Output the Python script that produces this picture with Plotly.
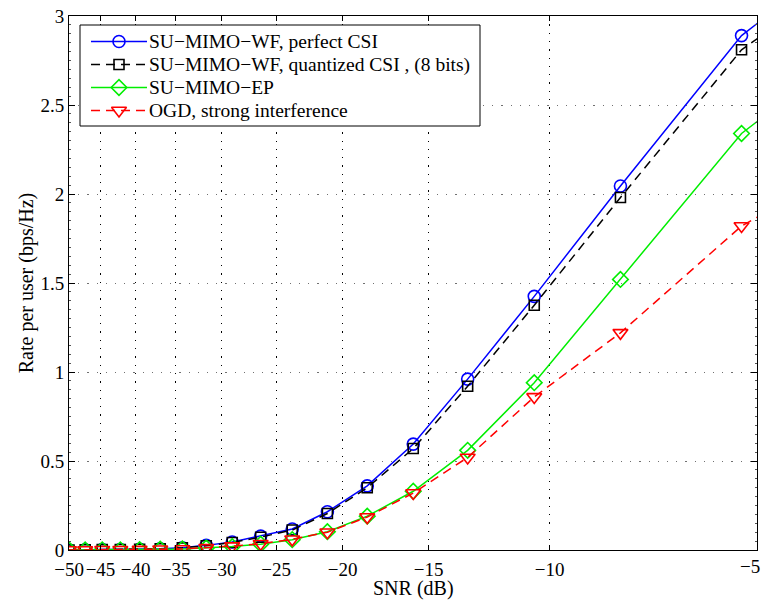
import plotly.graph_objects as go

# SNR grid (dB); the last point lies just past the right edge so the curves run to the border
snr_db = [-50.0, -47.37, -44.74, -42.11, -39.47, -36.84, -34.21, -31.58, -28.95,
          -26.32, -23.68, -21.05, -18.42, -15.79, -13.16, -10.53, -7.89, -5.26, -2.63]

rate_wf_perfect = [0.0, 0.001, 0.002, 0.003, 0.004, 0.007, 0.013, 0.026, 0.045,
                   0.078, 0.118, 0.215, 0.36, 0.595, 0.96, 1.425, 2.045, 2.89, 3.79]
rate_wf_quant = [0.0, 0.001, 0.002, 0.003, 0.004, 0.007, 0.012, 0.024, 0.042,
                 0.072, 0.112, 0.205, 0.35, 0.57, 0.92, 1.375, 1.98, 2.81, 3.63]
rate_ep = [0.0, 0.0, 0.001, 0.001, 0.002, 0.004, 0.006, 0.011, 0.019,
           0.033, 0.058, 0.103, 0.19, 0.33, 0.56, 0.94, 1.52, 2.34, 3.23]
rate_ogd = [0.0, 0.0, 0.001, 0.001, 0.002, 0.004, 0.006, 0.012, 0.022,
            0.035, 0.06, 0.10, 0.185, 0.32, 0.52, 0.86, 1.22, 1.82, 2.48]

series_names = [
    "SU\u2212MIMO\u2212WF, perfect CSI",
    "SU\u2212MIMO\u2212WF, quantized CSI , (8 bits)",
    "SU\u2212MIMO\u2212EP",
    "OGD, strong interference",
]

x_ticks_db = [-50, -45, -40, -35, -30, -25, -20, -15, -10, -5]
y_ticks = [0, 0.5, 1, 1.5, 2, 2.5, 3]

# the SNR axis is logarithmic in |SNR|, drawn reversed
x_mag = [-v for v in snr_db]

FONT = "Liberation Serif"


def db_label(v):
    return "\u2212" + str(-v)


styles = [
    ("#0000ff", "solid", "circle-open", 12),
    ("#000000", "9px,6px", "square-open", 10),
    ("#00ee00", "solid", "diamond-open", 12),
    ("#ff0000", "9px,6px", "triangle-down-open", 13),
]
series_values = [rate_wf_perfect, rate_wf_quant, rate_ep, rate_ogd]

fig = go.Figure()
for name, ys, (color, dash, symbol, size) in zip(series_names, series_values, styles):
    fig.add_trace(go.Scatter(
        x=x_mag, y=ys, name=name, mode="lines+markers",
        line=dict(color=color, width=1.5, dash=dash),
        marker=dict(symbol=symbol, size=size, color=color,
                    line=dict(color=color, width=1.6)),
        showlegend=False,
    ))

# ---- boxed legend, laid out on an overlay axis pair measured in pixels ----
box_x0, box_x1, box_y0, box_y1 = 80, 480, 25, 126
row_y = [41.5, 64.5, 87.5, 110.5]
sample_x = [91, 119, 147]
text_x = 147

fig.add_trace(go.Scatter(
    x=[box_x0, box_x1, box_x1, box_x0, box_x0],
    y=[box_y0, box_y0, box_y1, box_y1, box_y0],
    xaxis="x2", yaxis="y2", mode="lines", fill="toself",
    fillcolor="white", line=dict(color="black", width=1),
    hoverinfo="skip", showlegend=False,
))
for ry, name, (color, dash, symbol, size) in zip(row_y, series_names, styles):
    fig.add_trace(go.Scatter(
        x=sample_x, y=[ry] * 3, xaxis="x2", yaxis="y2", mode="lines+markers",
        line=dict(color=color, width=1.5, dash=dash),
        marker=dict(symbol=symbol, size=size, color=color, opacity=[0, 1, 0],
                    line=dict(color=color, width=1.6)),
        hoverinfo="skip", showlegend=False,
    ))
    fig.add_annotation(
        x=text_x, y=ry, xref="x2", yref="y2", text=name, showarrow=False,
        xanchor="left", yanchor="middle",
        font=dict(family=FONT, size=19.5, color="black"),
    )

# the rightmost tick label is kept inside the page by right-aligning it
tick_text = [db_label(v) for v in x_ticks_db[:-1]] + [""]
fig.add_annotation(
    x=1.0075, y=-0.031, xref="paper", yref="paper", text=db_label(x_ticks_db[-1]),
    showarrow=False, xanchor="right", yanchor="middle",
    font=dict(family=FONT, size=19, color="black"),
)

# x-axis title, placed just below the tick labels
fig.add_annotation(
    x=0.5, y=-0.072, xref="paper", yref="paper", text="SNR (dB)",
    showarrow=False, xanchor="center", yanchor="middle",
    font=dict(family=FONT, size=20, color="black"),
)

fig.update_layout(
    width=763, height=600,
    margin=dict(l=69, r=6, t=16, b=50, autoexpand=False),
    paper_bgcolor="white", plot_bgcolor="white",
    font=dict(family=FONT, size=19, color="black"),
    showlegend=False,
    xaxis=dict(
        type="log", range=[1.699, 0.6985],
        tickvals=[-v for v in x_ticks_db],
        ticktext=tick_text,
        tickangle=0, automargin=False,
        ticklabelstandoff=2,
        ticks="inside", ticklen=5, tickcolor="black",
        showline=True, linecolor="black", linewidth=1, mirror="ticks",
        showgrid=True, gridcolor="#000000", gridwidth=1.3, griddash="1.3px,7px",
        zeroline=False,
        tickfont=dict(family=FONT, size=19),
    ),
    yaxis=dict(
        range=[0, 3], tickvals=y_ticks, automargin=False,
        ticks="inside", ticklen=6, tickcolor="black",
        showline=True, linecolor="black", linewidth=1, mirror="ticks",
        showgrid=True, gridcolor="#707070", gridwidth=1.2, griddash="1.2px,8px",
        zeroline=False,
        minor=dict(dtick=0.05, ticks="inside", ticklen=2, tickcolor="#555", showgrid=False),
        title=dict(text="Rate per user (bps/Hz)", standoff=1, font=dict(family=FONT, size=20)),
        tickfont=dict(family=FONT, size=19),
    ),
    xaxis2=dict(overlaying="x", anchor="y2", range=[69, 757], visible=False,
                showgrid=False, zeroline=False),
    yaxis2=dict(overlaying="y", anchor="x2", range=[550, 16], visible=False,
                showgrid=False, zeroline=False),
)

fig.write_html("out.html")
